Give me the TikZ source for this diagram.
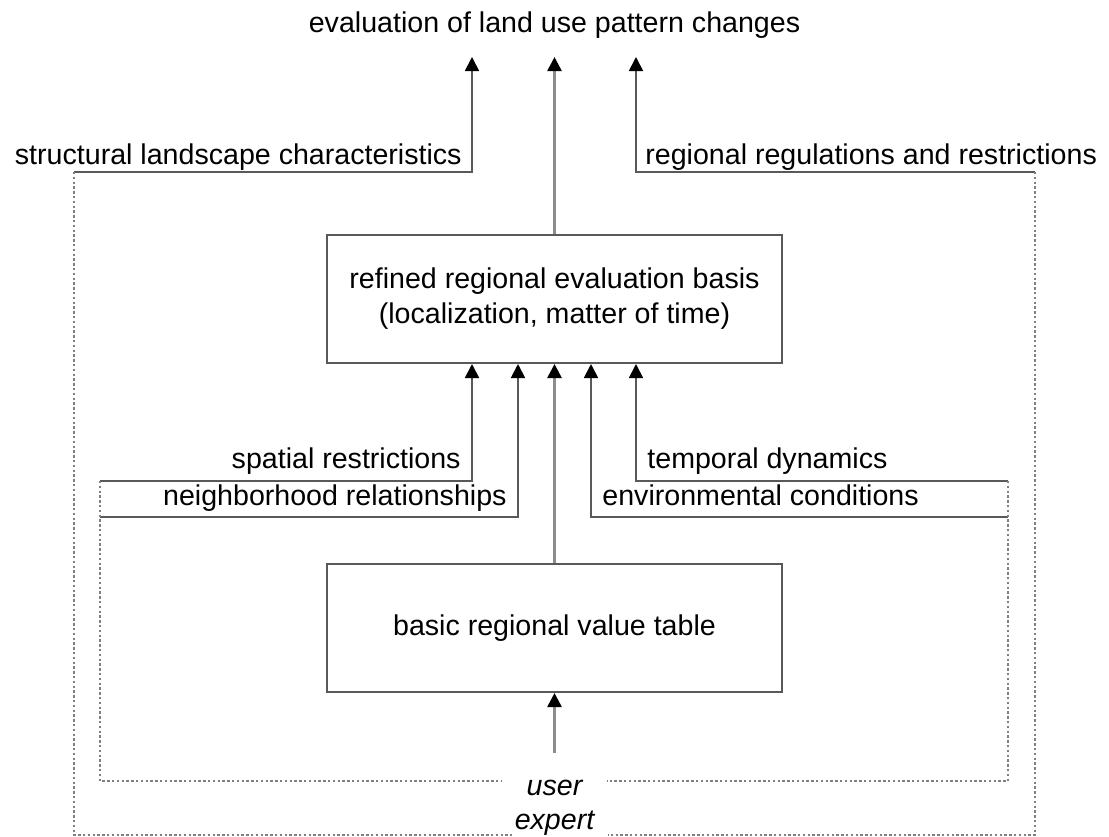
\documentclass[tikz,border=0pt]{standalone}
\usepackage{fontspec}
\setmainfont{Liberation Sans}
\usetikzlibrary{arrows.meta}
\def\boxw{227.5pt}
\def\dx{18.25pt}

\begin{document}
\begin{tikzpicture}[x=0.5pt,y=-0.5pt]
  \tikzset{
    lbl/.style={font=\fontsize{14.3}{17.5}\selectfont,inner sep=0pt},
    block/.style={lbl,draw=black!65,line width=1pt,minimum width=\boxw,minimum height=64pt,align=center},
    link/.style={draw=black!65,line width=0.9pt,-{Triangle[length=7pt,width=7pt,color=black]}},
    mainlink/.style={link,draw=black!45,line width=1.3pt},
    fence/.style={draw=black!50,line width=1pt,dash pattern=on 1.2pt off 1.2pt}
  }
  \useasboundingbox (0,0) rectangle (1109,836);

  \node[lbl] (title) at (554.5,25) {evaluation of land use pattern changes};
  \node[block] (refined) at (554.5,299) {refined regional evaluation basis\\(localization, matter of time)};
  \node[block] (basic) at (554.5,628) {basic regional value table};

  \coordinate (topL) at (472,57);
  \coordinate (topM) at (554.5,57);
  \coordinate (topR) at (636,57);
  \coordinate (sLeft) at (74,172);
  \coordinate (sRight) at (1035,172);
  \coordinate (iTL) at (100,481);
  \coordinate (iML) at (100,517);
  \coordinate (iTR) at (1008,481);
  \coordinate (iMR) at (1008,517);
  \coordinate (src) at (554.5,753);

  \node[lbl,anchor=base east] (struct) at (462,164) {structural landscape characteristics};
  \node[lbl,anchor=base west] (regul) at (645,164) {regional regulations and restrictions};
  \node[lbl,anchor=base east] (spatial) at (461,468) {spatial restrictions};
  \node[lbl,anchor=base east] (neigh) at (507,505) {neighborhood relationships};
  \node[lbl,anchor=base west] (temporal) at (647,468) {temporal dynamics};
  \node[lbl,anchor=base west] (environ) at (602,505) {environmental conditions};
  \node[lbl,font=\fontsize{14.3}{17.5}\selectfont\itshape] (user) at (554.5,788) {user};
  \node[lbl,font=\fontsize{14.3}{17.5}\selectfont\itshape] (expert) at (554.5,823) {expert};

  \draw[link] (sLeft) -| (topL);
  \draw[mainlink] (refined) -- (topM);
  \draw[link] (sRight) -| (topR);
  \draw[fence] (sLeft) |- (512,835);
  \draw[fence] (sRight) |- (608,835);

  \draw[link] (iTL) -| (refined.south -| topL);
  \draw[link] (iML) -| ([xshift=-\dx]refined.south);
  \draw[link] (iMR) -| ([xshift=\dx]refined.south);
  \draw[link] (iTR) -| (refined.south -| topR);
  \draw[fence] (iTL) |- (502,781);
  \draw[fence] (iTR) |- (607,781);

  \draw[mainlink] (basic) -- (refined);
  \draw[mainlink] (src) -- (basic);
\end{tikzpicture}
\end{document}
